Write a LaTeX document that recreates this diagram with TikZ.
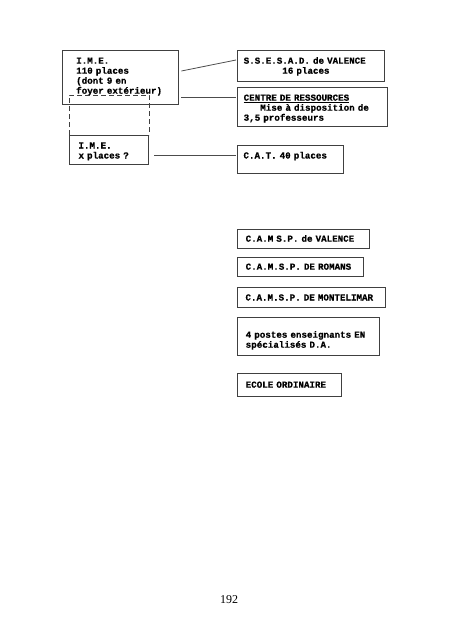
\documentclass[tikz,border=0pt]{standalone}
\usepackage{fontspec}
\setmainfont{Liberation Serif}
\newfontfamily\typewriter[BoldFeatures={FakeBold=0.7}]{Liberation Mono}
\usetikzlibrary{calc}

\tikzset{
	frame/.style={draw=black!75, anchor=north west, align=left, inner ysep=0pt,
		font=\typewriter\bfseries\fontsize{9.2}{10}\selectfont},
	heavy/.style={frame, line width=1.4pt},
	light/.style={frame, line width=1pt},
	link/.style={draw=black!70, line width=0.8pt},
	dashbox/.style={draw=black!75, line width=0.8pt, dash pattern=on 5pt off 3pt}
}

\begin{document}
\begin{tikzpicture}[x=1pt, y=-1pt]
			%%%%% START %%%%%
			
			\useasboundingbox (0,0) rectangle (458,640);
			
			% left column
			\node[heavy, inner xsep=13.5pt, text width=89pt, text height=13pt, text depth=41pt] (ime1) at (62,50)
				{I.M.E.\\110 places\\(dont 9 en\\foyer extérieur)};
			\node[light, inner xsep=9pt, text width=61pt, text height=13pt, text depth=16pt] (ime2) at (69,135)
				{I.M.E.\\x places ?};
			\draw[dashbox] (ime2.north west) -- ++(0,-40) -| (ime2.north east);
			
			% right column, top
			\node[heavy, inner xsep=6pt, text width=135pt, text height=13pt, text depth=18pt] (sessad) at (237,50)
				{S.S.E.S.A.D. de VALENCE\\\hspace*{38.6pt}16 places};
			\node[heavy, inner xsep=6pt, text width=138pt, text height=13pt, text depth=26pt] (centre) at (237,87)
				{\underline{CENTRE DE RESSOURCES}\\\hspace*{16.6pt}Mise à disposition de\\3,5 professeurs};
			\node[light, inner xsep=6pt, text width=94pt, text height=13pt, text depth=15pt] (cat) at (237,145)
				{C.A.T. 40 places};
			
			\draw[link] ([shift={(2,21)}]ime1.north east) -- ([shift={(-1,10)}]sessad.north west);
			\draw[link] ([shift={(2,47)}]ime1.north east) -- ([shift={(-1,10)}]centre.north west);
			\draw[link] ([shift={(5,20)}]ime2.north east) -- ([shift={(-1,10)}]cat.north west);
			
			% right column, bottom
			\node[heavy, inner xsep=8pt, text width=116pt, text height=12pt, text depth=7pt] (camspv) at (237,229)
				{C.A.M S.P. de VALENCE};
			\node[heavy, inner xsep=8pt, text width=110pt, text height=12pt, text depth=7pt] (camspr) at (237,257)
				{C.A.M.S.P. DE ROMANS};
			\node[light, inner xsep=8pt, text width=132pt, text height=13pt, text depth=7pt] (camspm) at (237,287)
				{C.A.M.S.P. DE MONTELIMAR};
			\node[heavy, inner xsep=8pt, text width=126pt, text height=20pt, text depth=18pt] (postes) at (237,317)
				{4 postes enseignants EN\\spécialisés D.A.};
			\node[heavy, inner xsep=8pt, text width=88pt, text height=14pt, text depth=9pt] (ecole) at (237,373)
				{ECOLE ORDINAIRE};
			
			\node[font=\fontsize{12}{14}\selectfont] (page) at (229,600) {192};
			
			%%%%% END %%%%%
\end{tikzpicture}
\end{document}
